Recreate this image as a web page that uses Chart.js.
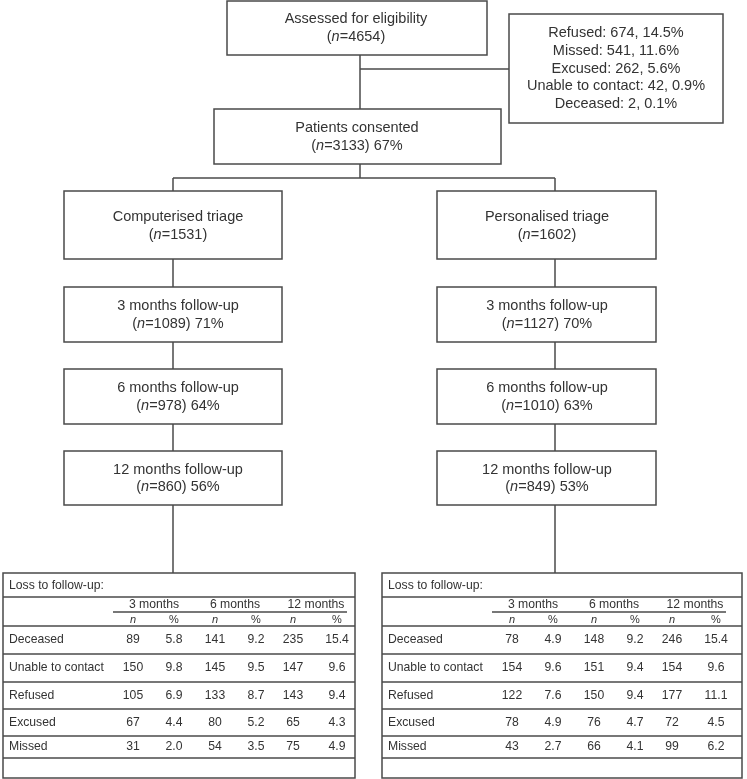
<!DOCTYPE html>
<html>
<head>
<meta charset="utf-8">
<script src="https://cdn.jsdelivr.net/npm/chart.js@4.4.0/dist/chart.umd.min.js"></script>
<style>
  html, body { margin: 0; padding: 0; background: #fff; }
  #flow { display: block; }
</style>
</head>
<body>
<canvas id="flow" width="747" height="779"></canvas>
<script>
// ---- data ----
const assessedN = 4654;
const consentedN = 3133;
const consentedPct = 67;

const excludedLabels = ['Refused', 'Missed', 'Excused', 'Unable to contact', 'Deceased'];
const excludedN = [674, 541, 262, 42, 2];
const excludedPct = [14.5, 11.6, 5.6, 0.9, 0.1];

const armNames = ['Computerised triage', 'Personalised triage'];
const armN = [1531, 1602];

const followUpLabels = ['3 months', '6 months', '12 months'];
const compFollowN = [1089, 978, 860];
const compFollowPct = [71, 64, 56];
const persFollowN = [1127, 1010, 849];
const persFollowPct = [70, 63, 53];

const lossReasons = ['Deceased', 'Unable to contact', 'Refused', 'Excused', 'Missed'];
const compLoss3N = [89, 150, 105, 67, 31];
const compLoss3Pct = [5.8, 9.8, 6.9, 4.4, 2.0];
const compLoss6N = [141, 145, 133, 80, 54];
const compLoss6Pct = [9.2, 9.5, 8.7, 5.2, 3.5];
const compLoss12N = [235, 147, 143, 65, 75];
const compLoss12Pct = [15.4, 9.6, 9.4, 4.3, 4.9];
const persLoss3N = [78, 154, 122, 78, 43];
const persLoss3Pct = [4.9, 9.6, 7.6, 4.9, 2.7];
const persLoss6N = [148, 151, 150, 76, 66];
const persLoss6Pct = [9.2, 9.4, 9.4, 4.7, 4.1];
const persLoss12N = [246, 154, 177, 72, 99];
const persLoss12Pct = [15.4, 9.6, 11.1, 4.5, 6.2];

// ---- layout (diagram units, mapped through the chart scales) ----
const FONT = '"Liberation Sans", Arial, Helvetica, sans-serif';
const LINE = '#4a4a4a';
const TEXT = '#333333';
const BOX_FS = 14.5;
const TAB_FS = 12.2;

const boxTop = { x1: 227, x2: 487, y1: 1, y2: 55 };
const boxExcl = { x1: 509, x2: 723, y1: 14, y2: 123 };
const boxConsent = { x1: 214, x2: 501, y1: 109, y2: 164 };
const armX = [[64, 282], [437, 656]];
const armTextX = [178, 547];
const armStem = [173, 555];
const armBoxY = [[191, 259], [287, 342], [369, 424], [451, 505]];
const tableX = [[3, 355], [382, 742]];
const tableY = { top: 573, bottom: 778, title: 597, sub: 612, head: 626, rows: [654, 682, 709, 736, 758] };
const colOff = [130, 171, 212, 253, 290, 334];
const headOff = [151, 232, 313];

const compLoss = [[compLoss3N, compLoss3Pct], [compLoss6N, compLoss6Pct], [compLoss12N, compLoss12Pct]];
const persLoss = [[persLoss3N, persLoss3Pct], [persLoss6N, persLoss6Pct], [persLoss12N, persLoss12Pct]];

const flowPlugin = {
  id: 'flow',
  beforeDraw(chart) {
    const c = chart.ctx;
    c.save();
    c.fillStyle = '#fff';
    c.fillRect(0, 0, chart.width, chart.height);
    c.restore();
  },
  afterDraw(chart) {
    const c = chart.ctx;
    const sx = v => chart.scales.x.getPixelForValue(v);
    const sy = v => chart.scales.y.getPixelForValue(v);

    c.save();
    c.strokeStyle = LINE;
    c.lineWidth = 1.5;
    c.fillStyle = TEXT;
    c.textBaseline = 'middle';

    function line(x1, y1, x2, y2) {
      c.beginPath();
      c.moveTo(sx(x1), sy(y1));
      c.lineTo(sx(x2), sy(y2));
      c.stroke();
    }
    function rect(b) {
      c.strokeRect(sx(b.x1), sy(b.y1), sx(b.x2) - sx(b.x1), sy(b.y2) - sy(b.y1));
    }
    // draws pieces of text [str, italic] centred (or left aligned) at x
    function rich(parts, x, y, size, align) {
      const fonts = parts.map(p => (p[1] ? 'italic ' : '') + size + 'px ' + FONT);
      let w = 0;
      parts.forEach((p, i) => { c.font = fonts[i]; w += c.measureText(p[0]).width; });
      let px = align === 'left' ? sx(x) : sx(x) - w / 2;
      c.textAlign = 'left';
      parts.forEach((p, i) => {
        c.font = fonts[i];
        c.fillText(p[0], px, sy(y));
        px += c.measureText(p[0]).width;
      });
    }
    function nLine(n, pct, x, y) {
      const tail = '=' + n + ')' + (pct !== undefined ? ' ' + pct + '%' : '');
      rich([['(', false], ['n', true], [tail, false]], x, y, BOX_FS);
    }

    // top section
    rect(boxTop);
    rich([['Assessed for eligibility', false]], 356, 19, BOX_FS);
    nLine(assessedN, undefined, 356, 37);

    line(360, boxTop.y2, 360, boxConsent.y1);
    line(360, 69, boxExcl.x1, 69);

    rect(boxExcl);
    excludedLabels.forEach((lab, i) => {
      rich([[lab + ': ' + excludedN[i] + ', ' + excludedPct[i].toFixed(1) + '%', false]],
        616, 33 + i * 17.8, BOX_FS);
    });

    rect(boxConsent);
    rich([['Patients consented', false]], 357, 128, BOX_FS);
    nLine(consentedN, consentedPct, 357, 146);

    line(360, boxConsent.y2, 360, 178);
    line(armStem[0], 178, armStem[1], 178);

    // two arms
    const follow = [[compFollowN, compFollowPct], [persFollowN, persFollowPct]];
    [0, 1].forEach(a => {
      const [x1, x2] = armX[a];
      const cx = armTextX[a];
      line(armStem[a], 178, armStem[a], armBoxY[0][0]);
      armBoxY.forEach((yy, k) => {
        rect({ x1, x2, y1: yy[0], y2: yy[1] });
        const mid = (yy[0] + yy[1]) / 2;
        if (k === 0) {
          rich([[armNames[a], false]], cx, mid - 8.5, BOX_FS);
          nLine(armN[a], undefined, cx, mid + 9.5);
        } else {
          rich([[followUpLabels[k - 1] + ' follow-up', false]], cx, mid - 8.5, BOX_FS);
          nLine(follow[a][0][k - 1], follow[a][1][k - 1], cx, mid + 9);
        }
        if (k < armBoxY.length - 1) line(armStem[a], yy[1], armStem[a], armBoxY[k + 1][0]);
      });
      line(armStem[a], armBoxY[3][1], armStem[a], tableY.top);

      // loss to follow-up table
      const [t1, t2] = tableX[a];
      const loss = a === 0 ? compLoss : persLoss;
      rect({ x1: t1, x2: t2, y1: tableY.top, y2: tableY.bottom });
      c.lineWidth = 1.3;
      line(t1, tableY.title, t2, tableY.title);
      line(t1 + 110, tableY.sub, t1 + 344, tableY.sub);
      line(t1, tableY.head, t2, tableY.head);
      tableY.rows.forEach(ry => line(t1, ry, t2, ry));
      c.lineWidth = 1.5;

      rich([['Loss to follow-up:', false]], t1 + 6, 586, TAB_FS, 'left');
      followUpLabels.forEach((lab, j) => rich([[lab, false]], t1 + headOff[j], 605, TAB_FS));
      colOff.forEach((off, j) => {
        rich([[j % 2 === 0 ? 'n' : '%', j % 2 === 0]], t1 + off, 620, 11);
      });
      const rowMid = [640, 668, 696, 723, 747];
      lossReasons.forEach((r, i) => {
        rich([[r, false]], t1 + 6, rowMid[i], TAB_FS, 'left');
        loss.forEach((pair, j) => {
          rich([[String(pair[0][i]), false]], t1 + colOff[j * 2], rowMid[i], TAB_FS);
          rich([[pair[1][i].toFixed(1), false]], t1 + colOff[j * 2 + 1], rowMid[i], TAB_FS);
        });
      });
    });

    c.restore();
  }
};

new Chart(document.getElementById('flow').getContext('2d'), {
  type: 'scatter',
  data: { datasets: [{ data: [] }] },
  options: {
    responsive: false,
    animation: false,
    layout: { padding: 0 },
    plugins: { legend: { display: false }, tooltip: { enabled: false } },
    scales: {
      x: { type: 'linear', min: 0, max: 747, display: false },
      y: { type: 'linear', min: 0, max: 779, reverse: true, display: false }
    }
  },
  plugins: [flowPlugin]
});
</script>
</body>
</html>
